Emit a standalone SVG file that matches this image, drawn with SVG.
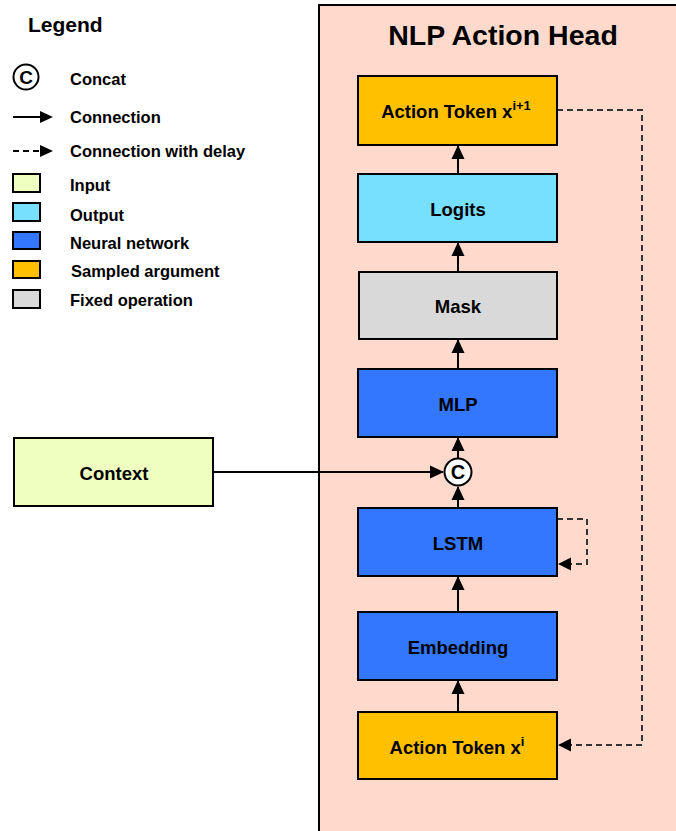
<svg xmlns="http://www.w3.org/2000/svg" width="676" height="831" viewBox="0 0 676 831">
<style>
.t{font-family:"Liberation Sans",Arial,sans-serif;font-weight:bold;fill:#000}
.node{stroke:#000;stroke-width:2}
.lg{font-size:16.5px}
.nt{font-size:18.5px;text-anchor:middle}
.ln{stroke:#000;stroke-width:2;fill:none}
.dl{stroke:#333;stroke-width:2;fill:none;stroke-dasharray:6,4}
</style>
<defs>
<marker id="ah" viewBox="0 0 14 14" refX="13" refY="7" markerWidth="14" markerHeight="14" markerUnits="userSpaceOnUse" orient="auto">
<path d="M0,0.5 L14,7 L0,13.5 Z" fill="#000"/>
</marker>
</defs>
<rect width="676" height="831" fill="#fff"/>
<!-- panel -->
<rect x="319" y="5" width="370" height="840" fill="#FFDACC" stroke="#000" stroke-width="2"/>
<text class="t" x="503" y="45" font-size="28.5" text-anchor="middle">NLP Action Head</text>
<!-- legend -->
<g id="legend">
<text class="t" x="28" y="32" font-size="21">Legend</text>
<circle cx="26" cy="77" r="12.5" fill="#fff" stroke="#000" stroke-width="2"/>
<text class="t" x="26" y="84" font-size="19" text-anchor="middle">C</text>
<text class="t lg" x="70" y="85">Concat</text>
<line x1="13" y1="117" x2="41" y2="117" stroke="#000" stroke-width="2"/>
<path d="M40,111 L53,117 L40,123 Z" fill="#000"/>
<text class="t lg" x="70" y="123">Connection</text>
<line x1="13" y1="151" x2="41" y2="151" stroke="#000" stroke-width="2" stroke-dasharray="6,4"/>
<path d="M40,145 L53,151 L40,157 Z" fill="#000"/>
<text class="t lg" x="70" y="157">Connection with delay</text>
<rect x="13" y="174" width="27" height="18" fill="#EEFFC0" stroke="#000" stroke-width="2"/>
<text class="t lg" x="70" y="191">Input</text>
<rect x="13" y="203" width="27" height="18" fill="#77DFFF" stroke="#000" stroke-width="2"/>
<text class="t lg" x="70" y="221">Output</text>
<rect x="13" y="232" width="27" height="17" fill="#3377FF" stroke="#000" stroke-width="2"/>
<text class="t lg" x="70" y="249">Neural network</text>
<rect x="13" y="261" width="27" height="17" fill="#FFC000" stroke="#000" stroke-width="2"/>
<text class="t lg" x="71" y="277">Sampled argument</text>
<rect x="13" y="290" width="27" height="18" fill="#D9D9D9" stroke="#000" stroke-width="2"/>
<text class="t lg" x="70" y="306">Fixed operation</text>
</g>
<!-- connectors -->
<g id="connectors">
<line class="ln" x1="458" y1="174" x2="458" y2="146" marker-end="url(#ah)"/>
<line class="ln" x1="458" y1="271" x2="458" y2="243" marker-end="url(#ah)"/>
<line class="ln" x1="458" y1="369" x2="458" y2="340" marker-end="url(#ah)"/>
<line class="ln" x1="458" y1="458" x2="458" y2="438" marker-end="url(#ah)"/>
<line class="ln" x1="458" y1="508" x2="458" y2="487" marker-end="url(#ah)"/>
<line class="ln" x1="458" y1="612" x2="458" y2="577" marker-end="url(#ah)"/>
<line class="ln" x1="458" y1="712" x2="458" y2="681" marker-end="url(#ah)"/>
<line class="ln" x1="213" y1="472" x2="443" y2="472" marker-end="url(#ah)"/>
<path class="dl" d="M557,110 H642 V745 H571"/>
<path d="M571,738.5 L558,745 L571,751.5 Z" fill="#000"/>
<path class="dl" d="M557,519 H587 V564 H571"/>
<path d="M571,557.5 L558,564 L571,570.5 Z" fill="#000"/>
</g>
<!-- nodes -->
<g id="action-token-next">
<rect class="node" x="358" y="76" width="199" height="69" fill="#FFC000"/>
<text class="t nt" x="456" y="118">Action Token x<tspan font-size="13" dy="-8">i+1</tspan></text>
</g>
<g id="logits">
<rect class="node" x="358" y="174" width="199" height="68" fill="#77DFFF"/>
<text class="t nt" x="458" y="216">Logits</text>
</g>
<g id="mask">
<rect class="node" x="359" y="272" width="198" height="67" fill="#D9D9D9"/>
<text class="t nt" x="458" y="313">Mask</text>
</g>
<g id="mlp">
<rect class="node" x="358" y="369" width="199" height="68" fill="#3377FF"/>
<text class="t nt" x="458" y="411">MLP</text>
</g>
<g id="concat">
<circle cx="458" cy="472" r="13.5" fill="#fff" stroke="#000" stroke-width="2"/>
<text class="t" x="458" y="479" font-size="20" text-anchor="middle">C</text>
</g>
<g id="context">
<rect class="node" x="14" y="438" width="199" height="68" fill="#EEFFC0"/>
<text class="t nt" x="114" y="480">Context</text>
</g>
<g id="lstm">
<rect class="node" x="358" y="508" width="199" height="68" fill="#3377FF"/>
<text class="t nt" x="458" y="550">LSTM</text>
</g>
<g id="embedding">
<rect class="node" x="358" y="612" width="199" height="68" fill="#3377FF"/>
<text class="t nt" x="458" y="654">Embedding</text>
</g>
<g id="action-token">
<rect class="node" x="358" y="712" width="199" height="67" fill="#FFC000"/>
<text class="t nt" x="457" y="754">Action Token x<tspan font-size="13" dy="-8">i</tspan></text>
</g>
</svg>
